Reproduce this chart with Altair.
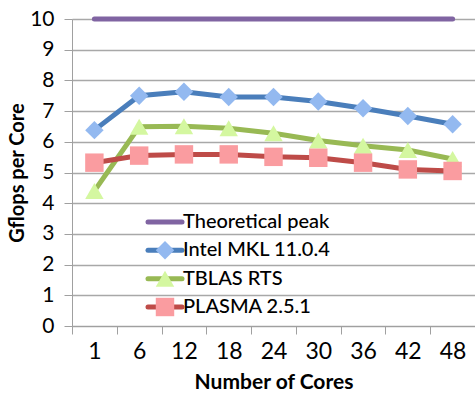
import altair as alt
import pandas as pd

cores = ["1", "6", "12", "18", "24", "30", "36", "42", "48"]
peak = [10, 10, 10, 10, 10, 10, 10, 10, 10]
mkl = [6.38, 7.50, 7.63, 7.46, 7.46, 7.31, 7.09, 6.84, 6.57]
tblas = [4.40, 6.49, 6.51, 6.44, 6.28, 6.04, 5.87, 5.73, 5.44]
plasma = [5.32, 5.55, 5.59, 5.59, 5.51, 5.48, 5.32, 5.10, 5.05]

names = ["Theoretical peak", "Intel MKL 11.0.4", "TBLAS RTS", "PLASMA 2.5.1"]
line_colors = ["#8064A2", "#4A7EBB", "#98B954", "#BE4B48"]
fill_colors = ["#8064A2", "#93B9F0", "#D4F7A0", "#FA9CA0"]
shapes = ["circle", "diamond", "triangle-up", "square"]

rows = []
for name, vals in zip(names, [peak, mkl, tblas, plasma]):
    for c, v in zip(cores, vals):
        rows.append({"cores": c, "value": v, "series": name})
df = pd.DataFrame(rows)
pts = df[df.series != names[0]]
leg = pd.DataFrame({"series": names})

FONT = "Lato"

stroke_scale = alt.Scale(domain=names, range=line_colors)
fill_scale = alt.Scale(domain=names, range=fill_colors)
shape_scale = alt.Scale(domain=names, range=shapes)

x = alt.X("cores:O", sort=cores,
          scale=alt.Scale(paddingInner=0, paddingOuter=0),
          axis=alt.Axis(title="Number of Cores", labelAngle=0, tickBand="extent",
                        labelFontSize=23, labelPadding=6,
                        titleFontSize=21, titleFontWeight="bold", titlePadding=8,
                        tickSize=8, domainColor="#A0A0A0", tickColor="#A0A0A0",
                        labelColor="#000", titleColor="#000", grid=False))
y = alt.Y("value:Q", scale=alt.Scale(domain=[0, 10], nice=False),
          axis=alt.Axis(title="Gflops per Core", values=list(range(0, 11)),
                        labelFontSize=21, labelPadding=10, tickSize=8,
                        titleFontSize=20, titleFontWeight="bold", titlePadding=2,
                        domainColor="#A0A0A0", tickColor="#A0A0A0",
                        gridColor="#A8A8A8", gridWidth=1.3,
                        labelColor="#000", titleColor="#000"))

lines = alt.Chart(df).mark_line(strokeWidth=5, strokeCap="round").encode(
    x=x, y=y,
    stroke=alt.Stroke("series:N", scale=stroke_scale, legend=None),
    detail="series:N",
)
points = alt.Chart(pts).mark_point(filled=True, size=340, opacity=1).encode(
    x=x, y=y,
    fill=alt.Fill("series:N", scale=fill_scale, legend=None),
    shape=alt.Shape("series:N", scale=shape_scale, legend=None),
)

ly = alt.Y("series:N", sort=names, scale=alt.Scale(domain=names, type="point", range=[203, 288], padding=0),
           axis=None)
leg_rules = alt.Chart(leg).mark_rule(strokeWidth=5, strokeCap="round").encode(
    x=alt.value(76), x2=alt.value(110), y=ly,
    stroke=alt.Stroke("series:N", scale=stroke_scale, legend=None),
)
leg_pts = alt.Chart(leg[leg.series != names[0]]).mark_point(filled=True, size=340, opacity=1).encode(
    x=alt.value(93), y=ly,
    fill=alt.Fill("series:N", scale=fill_scale, legend=None),
    shape=alt.Shape("series:N", scale=shape_scale, legend=None),
)
leg_text = alt.Chart(leg).mark_text(align="left", baseline="middle", fontSize=20,
                                    font=FONT, fontWeight=500, color="#000").encode(
    x=alt.value(111), y=ly, text="series:N",
)
legend = alt.layer(leg_rules, leg_pts, leg_text)

chart = alt.layer(lines, points, legend).resolve_scale(y="independent").properties(
    width=403, height=307,
    autosize=alt.AutoSizeParams(type="none"),
    padding={"left": 72, "top": 19, "right": 0, "bottom": 69},
).configure_view(stroke=None).configure(font=FONT, background="white")

chart.save("out.html", embed_options={"renderer": "svg", "actions": False})
